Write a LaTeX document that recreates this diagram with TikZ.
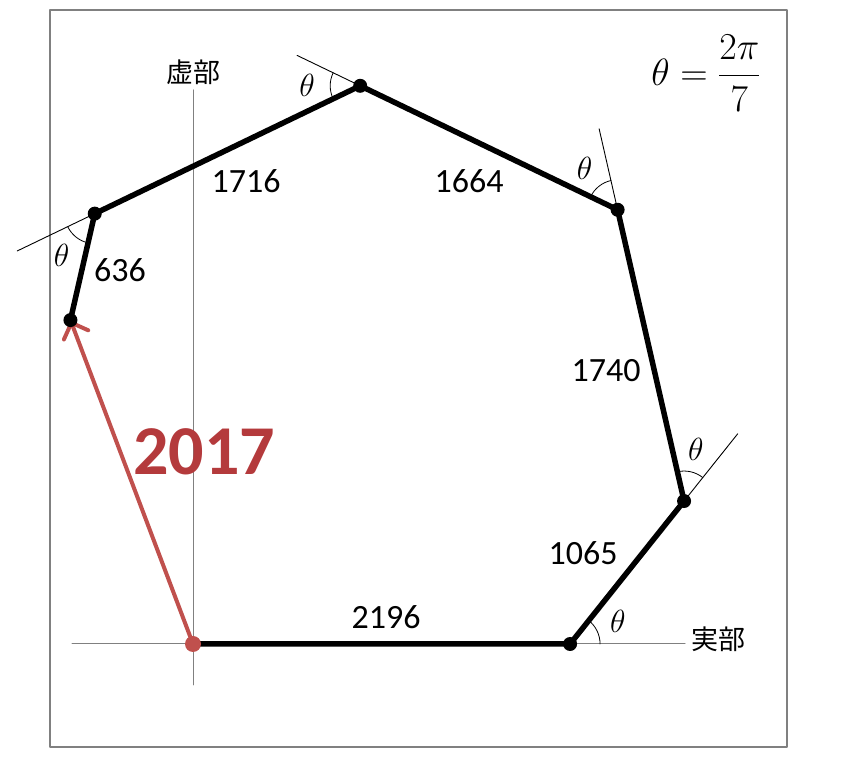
\RequirePackage{fix-cm}
\documentclass[tikz,border=0pt]{standalone}
\usepackage[no-math]{fontspec}
\setmainfont{Carlito}
\newfontfamily\jpfont{Noto Sans CJK JP}
\usepackage{amsmath}
\usepackage{tikz}
\usetikzlibrary{arrows.meta}
\definecolor{arrowred}{RGB}{192,80,77}
\definecolor{textred}{RGB}{180,58,60}
\tikzset{
  edge/.style={line width=5.5pt},
  axis/.style={gray, line width=1pt},
  extline/.style={line width=0.9pt},
  anglemark/.style={line width=0.8pt},
  sumarrow/.style={arrowred, line width=4pt, -{Straight Barb[length=13pt,width=26pt,line width=4pt,line cap=round]}},
  lenlabel/.style={font=\fontsize{34}{40}\selectfont},
  thetalabel/.style={font=\fontsize{32}{38}\selectfont}
}
\begin{document}
\begin{tikzpicture}[line cap=round,line join=round,x=1pt,y=1pt]
\useasboundingbox (0,0) rectangle (841,760);
\def\th{51.4286}
\def\s{0.1717}
% frame and axes
\draw[gray, line width=1.3pt] (50,13) rectangle (787,750);
\draw[axis] (72,116) -- (685,116);
\draw[axis] (193,75) -- (193,670);
\node[font=\jpfont\fontsize{27}{32}\selectfont] (re) at (718,121) {実部};
\node[font=\jpfont\fontsize{27}{32}\selectfont] (im) at (193,688) {虚部};
% vertices
\coordinate (v0) at (193,116);
\path (v0) ++(0:2196*\s) coordinate (v1)
  ++(\th:1065*\s) coordinate (v2)
  ++(2*\th:1740*\s) coordinate (v3)
  ++(3*\th:1664*\s) coordinate (v4)
  ++(4*\th:1716*\s) coordinate (v5)
  ++(5*\th:636*\s) coordinate (v6);
% extension lines
\draw[extline] (v2) -- ++(\th:86) coordinate (e2);
\draw[extline] (v3) -- ++(2*\th:83) coordinate (e3);
\draw[extline] (v4) -- ++(3*\th:70) coordinate (e4);
\draw[extline] (v5) -- ++(4*\th:86) coordinate (e5);
% angle marks
\foreach \k in {1,...,5}{
  \pgfmathsetmacro\a{(\k-1)*\th}
  \draw[anglemark] (v\k) ++(\a:30) arc[start angle=\a, end angle=\a+\th, radius=30];
  \path (v\k) ++(\a+\th/2:53) node[thetalabel] (t\k) {$\theta$};
}
% polygon
\draw[edge] (v0) -- (v1) -- (v2) -- (v3) -- (v4) -- (v5) -- (v6);
\draw[sumarrow] (v0) -- (v6);
\foreach \k in {1,...,6} \fill (v\k) circle (7);
\fill[arrowred] (v0) circle (8);
% labels
\node[lenlabel] (l1) at (386,143) {2196};
\node[lenlabel] (l2) at (583,207) {1065};
\node[lenlabel] (l3) at (606,389) {1740};
\node[lenlabel] (l4) at (469,579) {1664};
\node[lenlabel] (l5) at (246,579) {1716};
\node[lenlabel] (l6) at (120,490) {636};
\node[font=\bfseries\fontsize{70}{80}\selectfont, textred] (sum) at (204,308) {2017};
\node[font=\fontsize{38}{44}\selectfont] (eq) at (706,687) {$\theta=\dfrac{2\pi}{7}$};
\end{tikzpicture}
\end{document}
